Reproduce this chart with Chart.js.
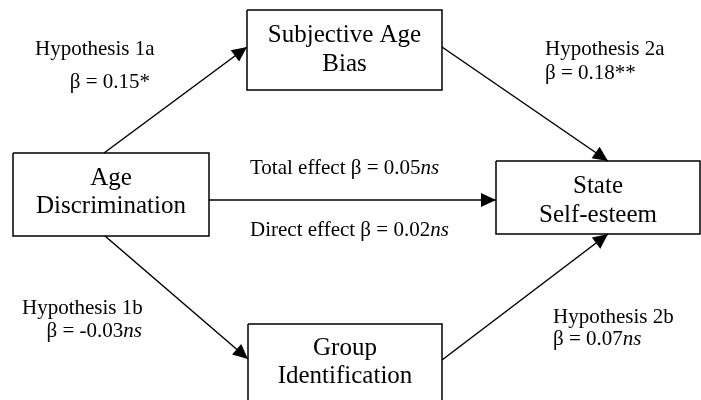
<!DOCTYPE html>
<html><head><meta charset="utf-8">
<script src="https://cdn.jsdelivr.net/npm/chart.js@4"></script>
<style>html,body{margin:0;padding:0;background:#fff}#wrap{width:701px;height:400px}</style>
</head><body><div id="wrap"><canvas id="c" width="701" height="400"></canvas></div>
<script>
// ---------------- data ----------------
const constructLines = [["Age","Discrimination"],["Subjective Age","Bias"],["Group","Identification"],["State","Self-esteem"]];
const hypotheses = ["Hypothesis 1a","Hypothesis 2a","Hypothesis 1b","Hypothesis 2b"];
const hypothesisBetas = [0.15, 0.18, -0.03, 0.07];
const hypothesisSig = ["*","**","ns","ns"];
const effectNames = ["Total effect","Direct effect"];
const effectBetas = [0.05, 0.02];
const effectSig = ["ns","ns"];

// ---------------- layout (diagram units) ----------------
const boxLayout = [
  {x0:13,  y0:153, x1:209, y1:236, base:[185,213]},
  {x0:247, y0:10,  x1:442, y1:90,  base:[42,71]},
  {x0:248, y0:324, x1:442, y1:412, base:[355,383]},
  {x0:496, y0:161, x1:700, y1:234, base:[193,222]}
];
const pathLayout = [
  {from:[104,153], to:[247,47],  hyp:{x:35,y:55,align:'left'},  beta:{x:150,y:88,align:'right'}},
  {from:[442,47],  to:[608,161], hyp:{x:545,y:55,align:'left'}, beta:{x:545,y:79,align:'left'}},
  {from:[105,236], to:[248,359], hyp:{x:22,y:314,align:'left'}, beta:{x:142,y:337,align:'right'}},
  {from:[442,360], to:[608,234], hyp:{x:553,y:323,align:'left'},beta:{x:553,y:345,align:'left'}}
];
const directLayout = {from:[209,200], to:[496,200]};
const effectLabelLayout = [{x:250,y:174},{x:250,y:236}];

const SERIF = '"Liberation Serif","Times New Roman",serif';
const INK = '#000';

function fmt(v){ return (v<0?'-':'') + Math.abs(v).toFixed(2); }

// ---------------- datasets ----------------
const datasets = [];
boxLayout.forEach((b,i)=>{
  datasets.push({label:'box'+i, kind:'box',
    data:[{x:b.x0,y:b.y0},{x:b.x1,y:b.y0},{x:b.x1,y:b.y1},{x:b.x0,y:b.y1},{x:b.x0,y:b.y0}],
    showLine:true, borderColor:INK, borderWidth:1.5, pointRadius:0, fill:false, tension:0});
});
pathLayout.concat([directLayout]).forEach((p,i)=>{
  datasets.push({label:'path'+i, kind:'arrow',
    data:[{x:p.from[0],y:p.from[1]},{x:p.to[0],y:p.to[1]}],
    showLine:true, borderColor:INK, borderWidth:1.5, pointRadius:0, fill:false});
});

function richText(ctx, parts, x, y, align, size){
  let w = 0;
  parts.forEach(p=>{ ctx.font = (p.it?'italic ':'') + size + 'px ' + SERIF; w += ctx.measureText(p.t).width; });
  let cx = align==='right' ? x - w : (align==='center' ? x - w/2 : x);
  parts.forEach(p=>{ ctx.font = (p.it?'italic ':'') + size + 'px ' + SERIF; ctx.fillText(p.t, cx, y); cx += ctx.measureText(p.t).width; });
}
function betaParts(prefix, v, sig){
  return [{t:prefix + 'β = ' + fmt(v)}, {t:sig, it: sig==='ns'}];
}

const diagramPlugin = {
  id:'diagram',
  afterDatasetsDraw(chart){
    const ctx = chart.ctx, xs = chart.scales.x, ys = chart.scales.y;
    ctx.save();
    ctx.fillStyle = INK;
    chart.data.datasets.forEach((ds,i)=>{
      if (ds.kind!=='arrow') return;
      const m = chart.getDatasetMeta(i).data;
      const a = m[0], b = m[1];
      const ang = Math.atan2(b.y-a.y, b.x-a.x);
      const L = 15, H = 7;
      ctx.beginPath();
      ctx.moveTo(b.x, b.y);
      ctx.lineTo(b.x - L*Math.cos(ang) + H*Math.sin(ang), b.y - L*Math.sin(ang) - H*Math.cos(ang));
      ctx.lineTo(b.x - L*Math.cos(ang) - H*Math.sin(ang), b.y - L*Math.sin(ang) + H*Math.cos(ang));
      ctx.closePath();
      ctx.fill();
    });
    ctx.textBaseline = 'alphabetic';
    // construct names
    boxLayout.forEach((b,i)=>{
      const cx = xs.getPixelForValue((b.x0+b.x1)/2);
      constructLines[i].forEach((line,j)=>{
        ctx.font = '25px ' + SERIF;
        ctx.textAlign = 'center';
        ctx.fillText(line, cx, ys.getPixelForValue(b.base[j]));
      });
    });
    ctx.textAlign = 'left';
    // hypothesis labels
    pathLayout.forEach((p,i)=>{
      const hx = xs.getPixelForValue(p.hyp.x), hy = ys.getPixelForValue(p.hyp.y);
      const bx = xs.getPixelForValue(p.beta.x), by = ys.getPixelForValue(p.beta.y);
      richText(ctx, [{t:hypotheses[i]}], hx, hy, p.hyp.align, 21);
      richText(ctx, betaParts('', hypothesisBetas[i], hypothesisSig[i]), bx, by, p.beta.align, 21);
    });
    // effect labels
    effectLabelLayout.forEach((e,i)=>{
      richText(ctx, betaParts(effectNames[i] + ' ', effectBetas[i], effectSig[i]),
        xs.getPixelForValue(e.x), ys.getPixelForValue(e.y), 'left', 21);
    });
    ctx.restore();
  }
};

new Chart(document.getElementById('c'), {
  type:'scatter',
  data:{datasets},
  options:{
    responsive:false, animation:false, devicePixelRatio:1,
    layout:{padding:0},
    scales:{
      x:{type:'linear', min:0, max:701, display:false},
      y:{type:'linear', min:0, max:400, reverse:true, display:false}
    },
    plugins:{legend:{display:false}, tooltip:{enabled:false}},
    events:[]
  },
  plugins:[diagramPlugin]
});
</script></body></html>
